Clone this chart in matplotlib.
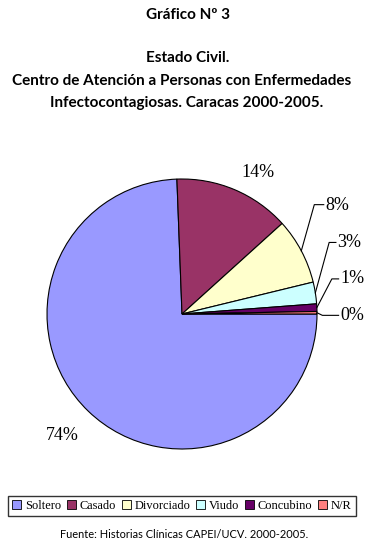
import numpy as np
import matplotlib
matplotlib.use("Agg")
import matplotlib.pyplot as plt

categories = ["Soltero", "Casado", "Divorciado", "Viudo", "Concubino", "N/R"]
values = [74.4, 13.9, 7.9, 2.6, 0.9, 0.3]
labels = ["74%", "14%", "8%", "3%", "1%", "0%"]
colors = ["#9999FF", "#993366", "#FFFFCC", "#CCFFFF", "#660066", "#FF8080"]

W, H = 376, 551
fig = plt.figure(figsize=(W / 100, H / 100), dpi=100)

def px(x, y):
    return x / W, 1 - y / H

title_font = "Lato"
tfs = 11
fig.text(*px(188, 15), "Gráfico Nº 3", ha="center", va="center",
         fontsize=tfs, fontweight="bold", family=title_font)
fig.text(*px(188, 58), "Estado Civil.", ha="center", va="center",
         fontsize=tfs, fontweight="bold", family=title_font)
fig.text(*px(182, 81), "Centro de Atención a Personas con Enfermedades", ha="center",
         va="center", fontsize=tfs, fontweight="bold", family=title_font)
fig.text(*px(187, 103), "Infectocontagiosas. Caracas 2000-2005.", ha="center",
         va="center", fontsize=tfs, fontweight="bold", family=title_font)

# pie axes: center (182,314), radius 135 px
cx, cy, r = 182, 314, 135
ax = fig.add_axes([(cx - r) / W, 1 - (cy + r) / H, 2 * r / W, 2 * r / H])
wedges, _ = ax.pie(values, colors=colors, startangle=0, counterclock=False,
                   wedgeprops=dict(edgecolor="black", linewidth=0.8))
ax.set_xlim(-1, 1)
ax.set_ylim(-1, 1)
ax.set_aspect("equal")
ax.axis("off")

lab_kw = dict(fontsize=13, family="Liberation Serif", color="black")
# direct labels (no leader)
ax.text(-0.89, -0.90, labels[0], ha="center", va="center", **lab_kw)
ax.text(0.56, 1.05, labels[1], ha="center", va="center", **lab_kw)

# leader-line labels
leader = {2: ((0.98, 0.81), (1.06, 0.80)),
          3: ((1.09, 0.53), (1.15, 0.53)),
          4: ((1.11, 0.26), (1.17, 0.26)),
          5: ((1.04, -0.01), (1.17, -0.01))}
for i, (elbow, tpos) in leader.items():
    w = wedges[i]
    mid = np.deg2rad((w.theta1 + w.theta2) / 2)
    ax_, ay_ = np.cos(mid), np.sin(mid)
    ax.plot([ax_, elbow[0], tpos[0] - 0.01], [ay_, elbow[1], elbow[1]],
            color="black", lw=0.8, clip_on=False)
    ax.text(tpos[0], tpos[1], labels[i], ha="left", va="center", **lab_kw)

# legend
leg = fig.legend(wedges, categories, loc="center", ncol=6,
                 bbox_to_anchor=(px(7, 518)[0], px(7, 518)[1],
                                 350 / W, 24 / H),
                 mode=None, frameon=True, fancybox=False, edgecolor="black",
                 prop={"family": "Liberation Serif", "size": 8.9},
                 handlelength=0.7, handleheight=0.7, handletextpad=0.3,
                 columnspacing=0.5, borderpad=0.35, borderaxespad=0)
leg.get_frame().set_linewidth(1.0)
for hnd in leg.legend_handles:
    hnd.set_edgecolor("black")
    hnd.set_linewidth(0.6)

fig.text(*px(184, 535), "Fuente: Historias Clínicas CAPEI/UCV. 2000-2005.",
         ha="center", va="center", fontsize=7.9, family="Lato")

fig.savefig("out.png", dpi=100)
